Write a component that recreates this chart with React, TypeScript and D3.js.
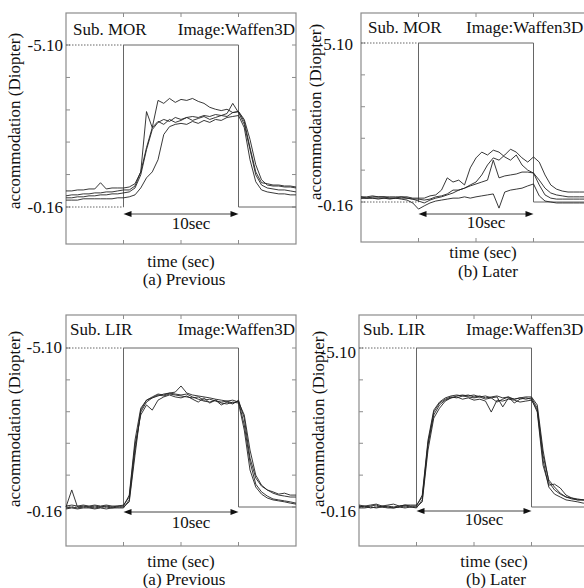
import React from 'react';
import * as d3 from 'd3';

// sample times (sec), every 0.5 s over the 20 s window
const TIMES = d3.range(0, 20.001, 0.5);
const X_TICKS = [5, 10, 15];
const Y_TICKS = [-5.1, -4.11, -3.12, -2.14, -1.15, -0.16];
const STIM_ON = 5;
const STIM_OFF = 15;
const STIM_LOW = -0.16;
const STIM_HIGH = -5.1;

// accommodation traces in diopter, one value per sample time
const morPrevious = [
  [-0.50,-0.53,-0.53,-0.56,-0.56,-0.59,-0.59,-0.62,-0.62,-0.65,-0.68, -0.68,-0.80,-1.23,-3.07,-2.58,-3.41,-3.32,-3.47,-3.35,-3.44,-3.41,-3.47,-3.38,-3.32,-3.20,-3.14,-3.10,-3.14,-3.04,-3.07, -2.83,-2.22,-1.45,-0.99,-0.83,-0.80,-0.80,-0.77,-0.77,-0.74],
  [-0.44,-0.44,-0.47,-0.47,-0.50,-0.50,-0.53,-0.53,-0.56,-0.56,-0.59, -0.62,-0.74,-1.14,-1.91,-2.52,-2.74,-2.83,-2.77,-2.89,-2.83,-2.89,-2.92,-2.89,-2.95,-2.92,-2.98,-2.95,-3.01,-3.32,-3.04, -2.68,-1.91,-1.14,-0.83,-0.74,-0.71,-0.68,-0.68,-0.65,-0.62],
  [-0.65,-0.65,-0.68,-0.68,-0.71,-0.71,-0.90,-0.71,-0.74,-0.74,-0.74, -0.77,-0.87,-1.23,-1.97,-2.58,-2.77,-2.68,-2.83,-2.74,-2.80,-2.89,-2.80,-2.86,-2.92,-2.83,-2.89,-2.95,-2.92,-3.04,-3.07, -2.77,-1.97,-1.23,-0.90,-0.87,-0.83,-0.83,-0.80,-0.80,-0.77],
  [-0.37,-0.37,-0.37,-0.41,-0.41,-0.41,-0.41,-0.41,-0.41,-0.44,-0.44, -0.47,-0.53,-0.74,-1.05,-1.23,-1.60,-2.37,-2.61,-2.68,-2.71,-2.68,-2.77,-2.71,-2.80,-2.74,-2.83,-2.80,-2.89,-2.92,-2.95, -2.58,-1.60,-0.93,-0.68,-0.62,-0.59,-0.56,-0.56,-0.53,-0.53],
];

const morLater = [
  [-0.32,-0.32,-0.35,-0.32,-0.32,-0.32,-0.32,-0.32,-0.32,-0.28,-0.28, -0.28,-0.35,-0.38,-0.53,-0.91,-0.78,-0.84,-0.69,-1.22,-1.53,-1.71,-1.62,-1.77,-1.71,-1.56,-1.46,-1.62,-1.31,-1.15,-1.06, -0.84,-0.59,-0.44,-0.38,-0.35,-0.32,-0.32,-0.32,-0.32,-0.32],
  [-0.28,-0.28,-0.28,-0.25,-0.28,-0.28,-0.28,-0.28,-0.28,-0.25,-0.25, -0.22,-0.25,-0.32,-0.35,-0.41,-0.53,-0.53,-0.59,-0.69,-0.78,-1.00,-1.31,-1.53,-1.46,-1.62,-1.80,-1.71,-1.53,-1.40,-1.56, -1.40,-1.00,-0.69,-0.56,-0.50,-0.47,-0.47,-0.47,-0.47,-0.47],
  [-0.32,-0.28,-0.32,-0.32,-0.32,-0.28,-0.28,-0.32,-0.28,-0.25,-0.19, -0.13,-0.22,-0.28,-0.32,-0.38,-0.44,-0.53,-0.59,-0.66,-0.72,-0.78,-0.84,-1.46,-0.91,-0.97,-1.00,-1.03,-1.09,-1.09,-1.06, -0.69,-0.38,-0.28,-0.25,-0.25,-0.25,-0.25,-0.25,-0.25,-0.25],
  [-0.28,-0.28,-0.28,-0.28,-0.28,-0.25,-0.28,-0.25,-0.22,-0.13,0.06, -0.04,-0.13,-0.19,-0.22,-0.25,-0.28,-0.28,-0.32,-0.28,-0.32,-0.35,-0.38,-0.41,0.03,-0.47,-0.53,-0.56,-0.59,-0.66,-0.72, -0.35,-0.19,-0.16,-0.13,-0.13,-0.13,-0.13,-0.13,-0.13,-0.13],
];

const lirPrevious = [
  [-0.16,-0.69,-0.16,-0.19,-0.16,-0.19,-0.16,-0.19,-0.16,-0.19,-0.19, -0.53,-2.24,-3.23,-3.48,-3.55,-3.61,-3.67,-3.70,-3.73,-3.92,-3.70,-3.64,-3.61,-3.58,-3.55,-3.51,-3.48,-3.45,-3.48,-3.42, -3.02,-1.93,-1.15,-0.84,-0.69,-0.59,-0.53,-0.50,-0.47,-0.47],
  [-0.10,-0.13,-0.10,-0.13,-0.13,-0.10,-0.13,-0.10,-0.13,-0.13,-0.13, -0.38,-1.93,-3.11,-3.42,-3.55,-3.64,-3.61,-3.67,-3.64,-3.61,-3.58,-3.55,-3.58,-3.48,-3.51,-3.45,-3.42,-3.45,-3.39,-3.45, -2.71,-1.56,-0.87,-0.63,-0.50,-0.41,-0.38,-0.35,-0.32,-0.28],
  [-0.19,-0.22,-0.19,-0.22,-0.19,-0.22,-0.19,-0.22,-0.19,-0.19,-0.22, -0.47,-2.09,-3.02,-3.33,-3.17,-3.48,-3.58,-3.64,-3.58,-3.55,-3.61,-3.51,-3.42,-3.55,-3.39,-3.48,-3.33,-3.42,-3.36,-3.48, -2.92,-1.68,-1.06,-0.81,-0.69,-0.63,-0.56,-0.59,-0.53,-0.53],
  [-0.13,-0.16,-0.13,-0.16,-0.16,-0.13,-0.16,-0.16,-0.13,-0.16,-0.16, -0.32,-1.77,-3.17,-3.48,-3.58,-3.67,-3.64,-3.70,-3.67,-3.64,-3.67,-3.58,-3.51,-3.45,-3.42,-3.48,-3.39,-3.36,-3.42,-3.39, -2.55,-1.31,-0.78,-0.56,-0.44,-0.38,-0.35,-0.32,-0.28,-0.25],
];

const lirLater = [
  [-0.19,-0.16,-0.19,-0.22,-0.16,-0.19,-0.16,-0.19,-0.22,-0.19,-0.19, -0.53,-2.24,-3.17,-3.42,-3.55,-3.61,-3.64,-3.61,-3.64,-3.58,-3.61,-3.55,-3.58,-3.61,-3.55,-3.58,-3.51,-3.55,-3.58,-3.58, -3.33,-1.93,-0.94,-0.69,-0.56,-0.47,-0.41,-0.38,-0.38,-0.35],
  [-0.13,-0.13,-0.16,-0.13,-0.16,-0.13,-0.13,-0.16,-0.13,-0.16,-0.13, -0.38,-2.09,-3.02,-3.33,-3.48,-3.55,-3.58,-3.51,-3.55,-3.48,-3.51,-3.45,-3.11,-3.48,-3.45,-3.51,-3.48,-3.42,-3.45,-3.48, -3.17,-1.62,-0.78,-0.56,-0.47,-0.38,-0.35,-0.32,-0.28,-0.28],
  [-0.22,-0.19,-0.22,-0.25,-0.19,-0.22,-0.25,-0.19,-0.22,-0.22,-0.22, -0.47,-2.15,-3.11,-3.39,-3.51,-3.58,-3.55,-3.61,-3.58,-3.55,-3.58,-3.51,-3.55,-3.58,-3.27,-3.55,-3.51,-3.55,-3.51,-3.55, -3.23,-1.77,-1.00,-0.78,-0.59,-0.47,-0.44,-0.38,-0.38,-0.38],
  [-0.16,-0.19,-0.13,-0.16,-0.19,-0.16,-0.13,-0.16,-0.19,-0.16,-0.16, -0.32,-1.93,-2.92,-3.23,-3.45,-3.55,-3.61,-3.64,-3.61,-3.64,-3.58,-3.61,-3.55,-3.42,-3.51,-3.58,-3.39,-3.51,-3.55,-3.51, -3.11,-1.46,-0.84,-0.87,-0.75,-0.53,-0.44,-0.41,-0.38,-0.35],
];

const PANELS = [
  { traces: morPrevious, subject: 'Sub. MOR', caption: '(a) Previous',
    x0: 66, x1: 296, y0: 13, y1: 244, yHi: 45, yLo: 207, arrowDy: 7, tenX: 191, tenDy: 15,
    subX: 73, subY: 35, imgX: 295, imgY: 35, imgAnchor: 'end', tickX: 63, hiY: 51, loY: 213,
    labX: 20, labY: 121, timeX: 181, timeY: 267, capX: 184, capY: 285 },
  { traces: morLater, subject: 'Sub. MOR', caption: '(b) Later',
    x0: 361, x1: 591, y0: 13, y1: 242, yHi: 43, yLo: 202, arrowDy: 12, tenX: 486, tenDy: 14,
    subX: 368, subY: 33, imgX: 466, imgY: 33, imgAnchor: 'start', tickX: 353, hiY: 50, loY: 211,
    labX: 321, labY: 112, timeX: 483, timeY: 258, capX: 488, capY: 277 },
  { traces: lirPrevious, subject: 'Sub. LIR', caption: '(a) Previous',
    x0: 66, x1: 296, y0: 315, y1: 546, yHi: 348, yLo: 507, arrowDy: 5, tenX: 191, tenDy: 16,
    subX: 70, subY: 335, imgX: 295, imgY: 335, imgAnchor: 'end', tickX: 62, hiY: 353, loY: 517,
    labX: 20, labY: 419, timeX: 181, timeY: 567, capX: 184, capY: 585 },
  { traces: lirLater, subject: 'Sub. LIR', caption: '(b) Later',
    x0: 359, x1: 589, y0: 315, y1: 546, yHi: 348, yLo: 507, arrowDy: 4, tenX: 484, tenDy: 14,
    subX: 363, subY: 335, imgX: 466, imgY: 335, imgAnchor: 'start', tickX: 356, hiY: 358, loY: 517,
    labX: 324, labY: 419, timeX: 494, timeY: 567, capX: 496, capY: 585 },
];

const FONT = '"Liberation Serif", "Times New Roman", serif';

function Panel({ p }: { p: any }) {
  const x = d3.scaleLinear().domain([0, 20]).range([p.x0, p.x1]);
  const y = d3.scaleLinear().domain([STIM_HIGH, STIM_LOW]).range([p.yHi, p.yLo]);
  const line = d3.line<number>().x((_, i) => x(TIMES[i])).y(d => y(d));
  const stim = d3.line<[number, number]>().x(d => x(d[0])).y(d => y(d[1]));
  const stimPts: [number, number][] = [
    [STIM_ON, STIM_LOW], [STIM_ON, STIM_HIGH], [STIM_OFF, STIM_HIGH], [STIM_OFF, STIM_LOW], [20, STIM_LOW],
  ];
  const ay = y(STIM_LOW) + p.arrowDy;
  const xa = x(STIM_ON), xb = x(STIM_OFF);
  const tick = 4;
  const frameColor = '#8c8c8c';

  return (
    <g fontFamily={FONT} fontSize={17} fill="#111">
      <rect x={p.x0} y={p.y0} width={p.x1 - p.x0} height={p.y1 - p.y0} fill="none" stroke={frameColor} strokeWidth={1.2} />
      {X_TICKS.map(t => (
        <g key={'x' + t} stroke={frameColor} strokeWidth={1}>
          <line x1={x(t)} x2={x(t)} y1={p.y1} y2={p.y1 - tick} />
          <line x1={x(t)} x2={x(t)} y1={p.y0} y2={p.y0 + tick} />
        </g>
      ))}
      {Y_TICKS.map(v => (
        <g key={'y' + v} stroke={frameColor} strokeWidth={1}>
          <line x1={p.x0} x2={p.x0 + tick} y1={y(v)} y2={y(v)} />
          <line x1={p.x1} x2={p.x1 - tick} y1={y(v)} y2={y(v)} />
        </g>
      ))}
      {[STIM_HIGH, STIM_LOW].map(v => (
        <line key={'d' + v} x1={p.x0} x2={xa} y1={y(v)} y2={y(v)} stroke="#555" strokeWidth={0.9} strokeDasharray="1.5,1.5" />
      ))}
      <path d={stim(stimPts) || ''} fill="none" stroke="#666" strokeWidth={1} />
      {p.traces.map((tr: number[], i: number) => (
        <path key={i} d={line(tr) || ''} fill="none" stroke="#222" strokeWidth={0.9} strokeLinejoin="round" />
      ))}
      <line x1={xa + 6} x2={xb - 6} y1={ay} y2={ay} stroke="#444" strokeWidth={1} />
      <path d={`M${xa},${ay}L${xa + 8},${ay - 3}L${xa + 8},${ay + 3}Z`} fill="#111" />
      <path d={`M${xb},${ay}L${xb - 8},${ay - 3}L${xb - 8},${ay + 3}Z`} fill="#111" />
      <text x={p.tenX} y={ay + p.tenDy} textAnchor="middle">10sec</text>
      <text x={p.subX} y={p.subY}>{p.subject}</text>
      <text x={p.imgX} y={p.imgY} textAnchor={p.imgAnchor}>Image:Waffen3D</text>
      <text x={p.tickX} y={p.hiY} textAnchor="end">-5.10</text>
      <text x={p.tickX} y={p.loY} textAnchor="end">-0.16</text>
      <text transform={`translate(${p.labX},${p.labY}) rotate(-90)`} textAnchor="middle">accommodation (Diopter)</text>
      <text x={p.timeX} y={p.timeY} textAnchor="middle">time (sec)</text>
      <text x={p.capX} y={p.capY} textAnchor="middle">{p.caption}</text>
    </g>
  );
}

export default function App() {
  return (
    <svg width={584} height={588} style={{ position: 'absolute', left: 0, top: 0, background: '#fff' }}>
      <rect width={584} height={588} fill="#fff" />
      {PANELS.map((p, i) => <Panel key={i} p={p} />)}
    </svg>
  );
}
